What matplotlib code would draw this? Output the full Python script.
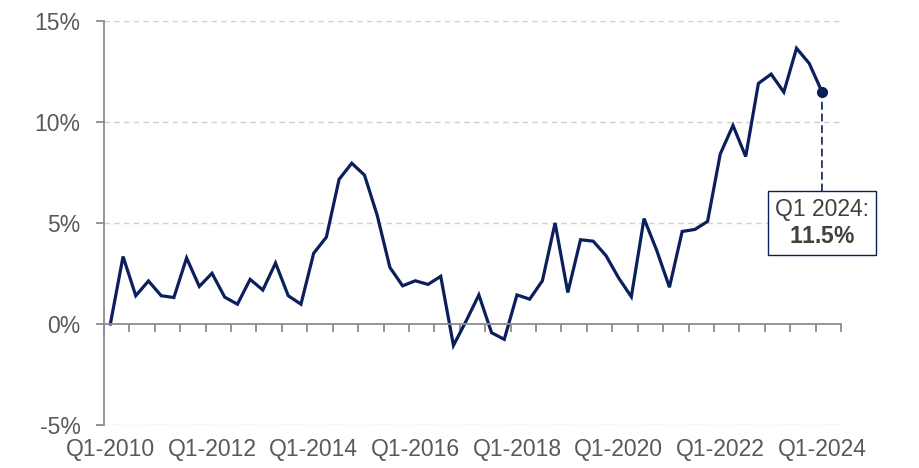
import numpy as np
import matplotlib.pyplot as plt

# Variación trimestral (%) desde Q1-2010 hasta Q1-2024
values = [0.0, 3.34, 1.40, 2.13, 1.40, 1.31, 3.27, 1.86, 2.51, 1.33,
          0.98, 2.21, 1.68, 3.02, 1.40, 0.98, 3.50, 4.30, 7.16, 7.96,
          7.37, 5.38, 2.80, 1.89, 2.14, 1.96, 2.36, -1.06, 0.15, 1.44,
          -0.43, -0.76, 1.44, 1.23, 2.14, 5.00, 1.56, 4.17, 4.10, 3.39,
          2.28, 1.35, 5.22, 3.64, 1.82, 4.58, 4.68, 5.08, 8.42, 9.83,
          8.29, 11.91, 12.37, 11.48, 13.65, 12.90, 11.5]

xlabels = ['Q1-2010', 'Q1-2012', 'Q1-2014', 'Q1-2016', 'Q1-2018',
           'Q1-2020', 'Q1-2022', 'Q1-2024']
xlabel_pos = [0, 8, 16, 24, 32, 40, 48, 56]

yticks = [-5, 0, 5, 10, 15]
ylabels = ['-5%', '0%', '5%', '10%', '15%']

last_label = 'Q1 2024:'
last_value = '11.5%'

# Colores
clr = '#0B1F5C'
grey = '#595959'
axisclr = '#8C8C8C'
gridclr = '#D0D0D0'

plt.rcParams['font.family'] = ['Liberation Sans', 'DejaVu Sans']
plt.rcParams['mathtext.fontset'] = 'custom'
plt.rcParams['mathtext.rm'] = 'Liberation Sans'
plt.rcParams['mathtext.bf'] = 'Liberation Sans:bold'

X = np.arange(len(values))
fsize = 16.5

fig = plt.figure(figsize=(9.2, 4.68), dpi=100)
ax = fig.add_axes([104 / 920, 1 - 425 / 468, (841 - 104) / 920, (425 - 21) / 468])

ax.plot(X, values, color=clr, linewidth=2.3, solid_joinstyle='miter')
ax.plot(X[-1], values[-1], 'o', color=clr, markersize=7)

# Ejes
ax.set_xlim(-0.5, 57.5)
ax.set_ylim(-5, 15)

ax.spines['top'].set_visible(False)
ax.spines['right'].set_visible(False)
ax.spines['bottom'].set_position(('data', 0))
for s in ['left', 'bottom']:
    ax.spines[s].set_color(axisclr)
    ax.spines[s].set_linewidth(1.3)

ax.set_xticks(np.arange(-0.5, 58, 2))
ax.set_xticklabels([])
ax.tick_params(axis='x', direction='out', length=6, width=1.3, color=axisclr)

ax.set_yticks(yticks)
ax.set_yticklabels(ylabels)
ax.tick_params(axis='y', direction='out', length=6, width=1.3, color=axisclr,
               labelsize=fsize, labelcolor=grey, pad=11)

for xp, lab in zip(xlabel_pos, xlabels):
    ax.text(xp, -0.031, lab, transform=ax.get_xaxis_transform(),
            ha='center', va='top', fontsize=fsize, color=grey)

# Grid
for yv in yticks:
    if yv != 0:
        ax.axhline(yv, color=gridclr, linewidth=1.0, linestyle=(0, (4, 3)), zorder=0)

# Anotación del último dato
ax.annotate(last_label + '\n' + r'$\mathbf{' + last_value.replace('%', r'\%') + '}$',
            xy=(X[-1], values[-1]), xytext=(X[-1], 5.0),
            textcoords='data', ha='center', va='center',
            fontsize=fsize, color='#404040', linespacing=1.2,
            bbox=dict(boxstyle='square,pad=0.3', facecolor='white',
                      edgecolor=clr, linewidth=1.0),
            arrowprops=dict(arrowstyle='-', color=clr, linewidth=1.2,
                            linestyle=(0, (4, 3)), shrinkA=0, shrinkB=0))

plt.savefig('out.png', dpi=100)
